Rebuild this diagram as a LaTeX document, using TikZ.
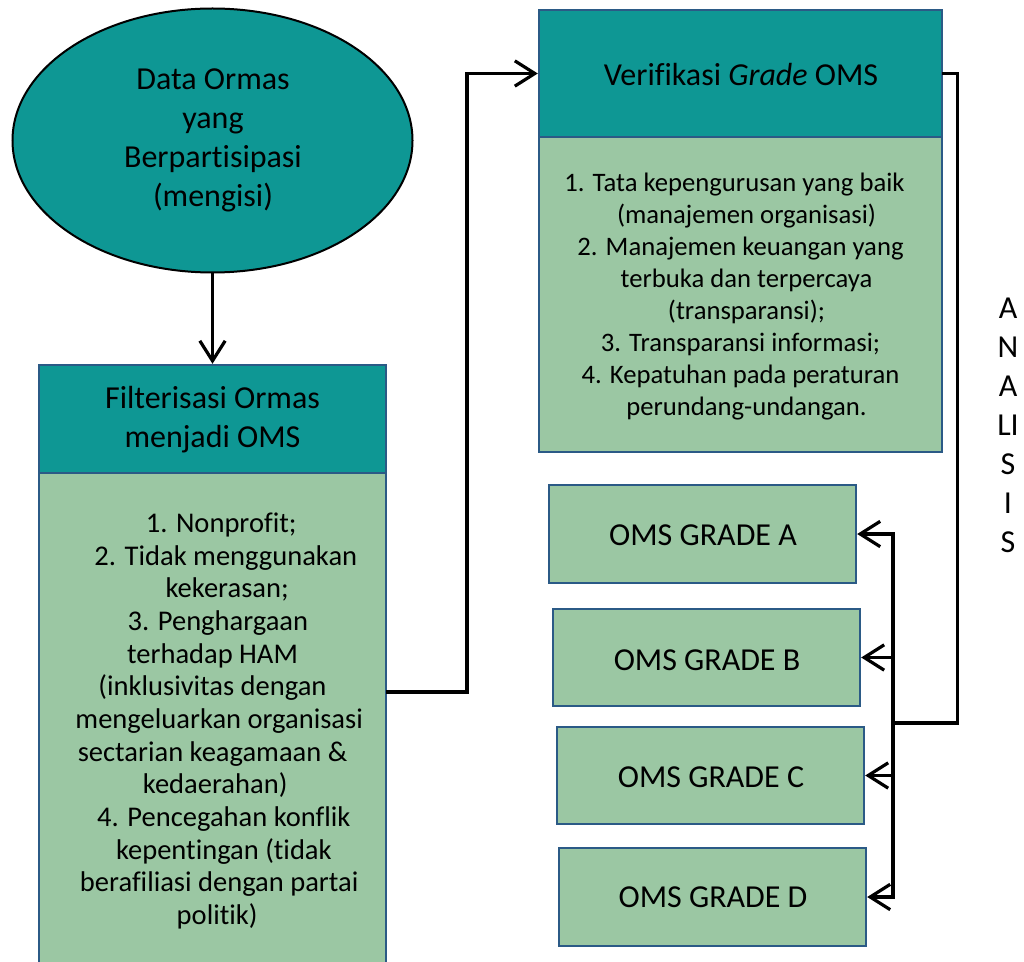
\documentclass[tikz,border=0pt]{standalone}
\usepackage{fontspec}
\setmainfont{Carlito}[Ligatures={NoCommon,NoRequired}]
\usetikzlibrary{arrows.meta,shapes.geometric,fit}
\definecolor{teal1}{HTML}{0E9794}
\definecolor{green1}{HTML}{9BC7A3}
\definecolor{bord}{HTML}{2B5A86}
\newcommand\myshift[1]{\hspace*{#1pt}}
\tikzset{
 hdr/.style={draw=bord, line width=1.8pt, fill=teal1, inner sep=0pt},
 body/.style={draw=bord, line width=1.8pt, fill=green1, inner sep=0pt},
 bigtxt/.style={inner sep=0pt, align=center, font=\fontsize{24}{29.25}\selectfont},
 lefttxt/.style={inner sep=0pt, align=center, font=\fontsize{21.4}{24.5}\selectfont},
 righttxt/.style={inner sep=0pt, align=center, font=\fontsize{20}{24}\selectfont},
 conn/.style={line width=2.4pt, line join=miter, line cap=rect},
 arr/.style={conn, -{Straight Barb[length=15pt,width=19pt,line width=2.4pt]}},
}
\begin{document}
\begin{tikzpicture}[x=0.75pt,y=-0.75pt]
\useasboundingbox (0,0) rectangle (1024,962);
\fill[white] (0,0) rectangle (1024,962);
\clip (0,0) rectangle (1024,962);
% ellipse
\node[ellipse, draw=black, line width=1.5pt, fill=teal1, minimum width=300pt, minimum height=198pt, inner sep=0pt] (data) at (212.5,140.5) {};
\node[bigtxt] (datat) at (213,140) {Data Ormas\\yang\\Berpartisipasi\\(mengisi)};
% left column
\node[body, fit={(39,473) (386,968)}] (filB) {};
\node[hdr, fit={(39,365) (386,473)}] (filH) {};
\node[bigtxt] (filHt) at (212.5,420) {Filterisasi Ormas\\menjadi OMS};
\node[lefttxt] (filBt) at (212.5,721) {\myshift{13}1. Nonprofit;\\
\myshift{20}2. Tidak menggunakan\\
\myshift{22}kekerasan;\\
\myshift{8}3. Penghargaan\\
terhadap HAM\myshift{4}\\
(inklusivitas dengan\\
\myshift{10}mengeluarkan organisasi\\
sectarian keagamaan \&\\
\myshift{4}kedaerahan)\\
\myshift{17}4. Pencegahan konflik\\
\myshift{17}kepentingan (tidak\\
\myshift{10}berafiliasi dengan partai\\
\myshift{7}politik)};
% right column
\node[body, fit={(539,137) (942,452)}] (verB) {};
\node[hdr, fit={(539,10) (942,137)}] (verH) {};
\node[bigtxt] (verHt) at (741,75) {Verifikasi \textit{Grade} OMS};
\node[righttxt] (verBt) at (740.5,297) {1. Tata kepengurusan yang baik\myshift{9}\\
\myshift{9}(manajemen organisasi)\\
2. Manajemen keuangan yang\myshift{9}\\
\myshift{9}terbuka dan terpercaya\\
\myshift{9}(transparansi);\\
3. Transparansi informasi;\myshift{9}\\
4. Kepatuhan pada peraturan\myshift{9}\\
\myshift{9}perundang-undangan.};
\node[body, fit={(549,485) (856,583)}] (gA) {};
\node[body, fit={(553,609) (860,706)}] (gB) {};
\node[body, fit={(557,727) (864,824)}] (gC) {};
\node[body, fit={(559,848) (866,946)}] (gD) {};
\node[bigtxt] (gAt) at (703,535) {OMS GRADE A};
\node[bigtxt] (gBt) at (707,660) {OMS GRADE B};
\node[bigtxt] (gCt) at (711,777) {OMS GRADE C};
\node[bigtxt] (gDt) at (713,897) {OMS GRADE D};
\node[bigtxt] (an) at (1008,425.5) {A\\N\\A\\LI\\S\\I\\S};
% connectors
\draw[arr] (data.south) -- (filH.north);
\coordinate (y692) at (0,692);
\draw[arr] (filB.east |- y692) -- (467,692) |- (verH.west);
\coordinate (j) at (893,723);
\draw[conn] (verH.east) -- ++(14,0) |- (j);
\draw[conn] (j |- gA.east) -- (j |- gD.east);
\draw[arr] (j |- gA.east) -- (gA.east);
\draw[arr] (j |- gB.east) -- (gB.east);
\draw[arr] (j |- gC.east) -- (gC.east);
\draw[arr] (j |- gD.east) -- (gD.east);
\end{tikzpicture}
\end{document}
